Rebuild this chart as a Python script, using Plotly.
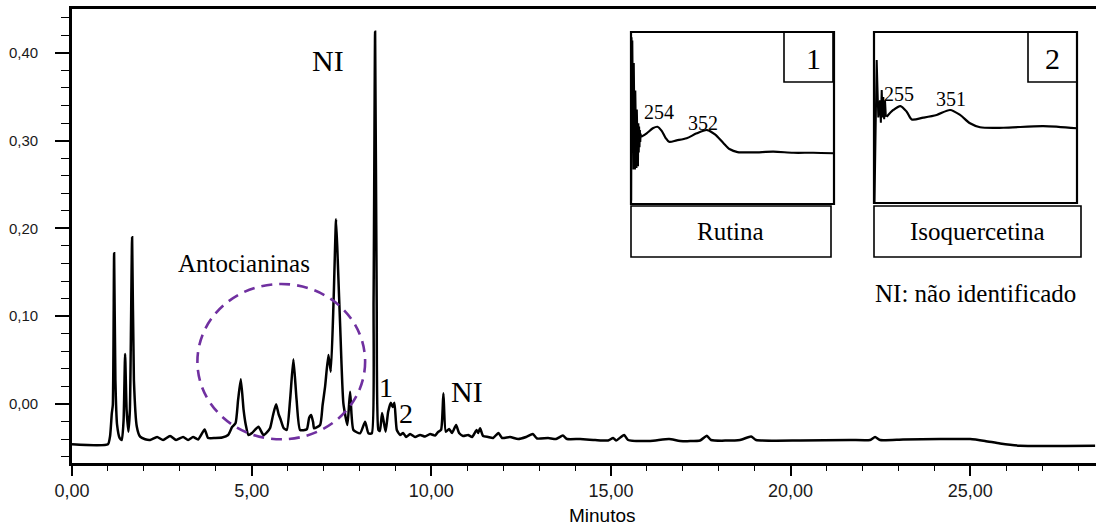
import plotly.graph_objects as go

# ---------------- data ----------------
# Chromatogram: retention time (min) and absorbance (AU)
tempo_min = [0.00, 1.00, 1.060, 1.108, 1.136, 1.172, 1.208, 1.255, 1.325, 1.386,
             1.436, 1.478, 1.520, 1.570, 1.611, 1.673, 1.723, 1.804, 1.895, 2.035,
             2.174, 2.368, 2.535, 2.730, 2.897, 3.092, 3.231, 3.370, 3.510, 3.691,
             3.788, 3.983, 4.178, 4.345, 4.456, 4.553, 4.623, 4.698, 4.776, 4.832,
             4.910, 5.012, 5.188, 5.327, 5.430, 5.514, 5.596, 5.680, 5.750, 5.811,
             5.889, 5.978, 6.070, 6.162, 6.251, 6.348, 6.535, 6.599, 6.655, 6.710,
             6.738, 6.905, 6.975, 7.044, 7.136, 7.203, 7.281, 7.350, 7.406, 7.461,
             7.553, 7.665, 7.740, 7.832, 8.018, 8.157, 8.249, 8.344, 8.394, 8.436,
             8.480, 8.527, 8.569, 8.631, 8.728, 8.798, 8.873, 8.923, 8.973, 9.040,
             9.132, 9.215, 9.299, 9.410, 9.549, 9.688, 9.827, 9.967, 10.105, 10.189,
             10.272, 10.337, 10.403, 10.495, 10.579, 10.690, 10.773, 10.885, 11.024, 11.135,
             11.261, 11.302, 11.358, 11.442, 11.581, 11.720, 11.868, 11.970, 12.193, 12.416,
             12.638, 12.825, 12.944, 13.251, 13.473, 13.660, 13.779, 14.141, 14.559, 14.921,
             15.060, 15.143, 15.366, 15.477, 16.089, 16.618, 16.924, 17.481, 17.668, 17.787,
             18.594, 18.900, 19.040, 20.264, 21.656, 22.213, 22.351, 22.491, 23.131, 24.161,
             24.996, 25.413, 25.830, 26.387, 28.475]
absorbancia = [-0.0459, -0.0459, -0.0364, -0.0106, -0.0011, 0.1716, 0.0273, -0.0239, -0.0387, -0.0410,
               -0.0182, 0.0569, -0.0068, -0.0315, -0.0068, 0.1899, 0.0273, -0.0259, -0.0372, -0.0402,
               -0.0410, -0.0376, -0.0410, -0.0364, -0.0410, -0.0376, -0.0410, -0.0376, -0.0404, -0.0290,
               -0.0387, -0.0387, -0.0382, -0.0353, -0.0262, -0.0216, 0.0046, 0.0281, -0.0068, -0.0228,
               -0.0353, -0.0330, -0.0259, -0.0353, -0.0319, -0.0273, -0.0125, -0.0003, -0.0114, -0.0182,
               -0.0273, -0.0296, 0.0046, 0.0509, 0.0046, -0.0296, -0.0288, -0.0159, -0.0125, -0.0205,
               -0.0277, -0.0239, -0.0011, 0.0197, 0.0558, 0.0368, 0.1185, 0.2104, 0.1526, 0.0919,
               0.0008, -0.0239, 0.0140, -0.0296, -0.0334, -0.0202, -0.0334, -0.0334, 0.1185, 0.4240,
               0.1185, -0.0296, -0.0308, -0.0103, -0.0315, -0.0091, 0.0015, -0.0034, 0.0015, -0.0296,
               -0.0353, -0.0330, -0.0376, -0.0342, -0.0376, -0.0353, -0.0370, -0.0342, -0.0359, -0.0319,
               -0.0296, 0.0122, -0.0315, -0.0285, -0.0330, -0.0239, -0.0330, -0.0364, -0.0353, -0.0376,
               -0.0296, -0.0330, -0.0277, -0.0364, -0.0376, -0.0387, -0.0330, -0.0387, -0.0376, -0.0399,
               -0.0376, -0.0342, -0.0393, -0.0387, -0.0399, -0.0359, -0.0399, -0.0399, -0.0410, -0.0416,
               -0.0387, -0.0416, -0.0353, -0.0410, -0.0421, -0.0399, -0.0421, -0.0416, -0.0361, -0.0410,
               -0.0410, -0.0370, -0.0410, -0.0416, -0.0410, -0.0410, -0.0376, -0.0410, -0.0404, -0.0399,
               -0.0399, -0.0421, -0.0450, -0.0475, -0.0475]

# UV spectrum of peak 1 (Rutina): wavelength (nm), relative absorbance
# first points: noisy start of the detector range; rest: smooth spectrum
lambda_rutina_ruido = [200.3, 201.0, 201.8, 202.6, 203.3, 204.0, 204.8, 205.5, 206.3, 207.0,
                       207.8, 208.5, 209.3, 210.0, 210.8, 211.5, 212.3, 213.0, 213.8, 214.5,
                       215.3, 216.0, 216.8, 217.5, 218.3, 219.0, 219.7]
abs_rutina_ruido = [0.02, 0.97, 0.40, 0.95, 0.30, 0.90, 0.20, 0.82, 0.28, 0.74,
                    0.20, 0.66, 0.25, 0.60, 0.21, 0.55, 0.26, 0.50, 0.22, 0.47,
                    0.30, 0.45, 0.33, 0.43, 0.36, 0.41, 0.39]
lambda_rutina = [219.7, 230.9, 243.0, 252.0, 260.5, 268.0, 275.0, 290.0, 309.7, 329.5,
                 350.0, 365.5, 381.9, 395.0, 410.0, 441.0, 480.4, 519.8, 559.2, 598.6]
abs_rutina = [0.39, 0.411, 0.44, 0.449, 0.425, 0.385, 0.362, 0.370, 0.382, 0.411,
              0.430, 0.405, 0.355, 0.318, 0.302, 0.300, 0.304, 0.298, 0.298, 0.295]

# UV spectrum of peak 2 (Isoquercetina)
lambda_isoq_ruido = [201.0, 205.3, 208.5, 211.8, 213.5, 215.2, 216.8, 218.3, 220.0, 221.7,
                     223.3, 225.0]
abs_isoq_ruido = [0.0, 0.836, 0.50, 0.60, 0.47, 0.66, 0.50, 0.62, 0.49, 0.60,
                  0.51, 0.505]
lambda_isoq = [225.0, 238.0, 252.0, 264.4, 274.3, 297.1, 323.5, 350.0, 369.5, 389.2,
               408.9, 454.8, 533.6, 599.4]
abs_isoq = [0.505, 0.544, 0.567, 0.534, 0.489, 0.499, 0.515, 0.544, 0.515, 0.466,
            0.443, 0.440, 0.450, 0.437]

x_tick_vals = [0, 5, 10, 15, 20, 25]
x_tick_text = ["0,00", "5,00", "10,00", "15,00", "20,00", "25,00"]
y_tick_vals = [0.0, 0.1, 0.2, 0.3, 0.4]
y_tick_text = ["0,00", "0,10", "0,20", "0,30", "0,40"]

# ---------------- layout helpers ----------------
W, H = 1096, 529
L, R, T, B = 72, 0, 9, 66
PW, PH = W - L - R, H - T - B


def fx(x):
    return (x - L) / PW


def fy(y):
    return (H - B - y) / PH


SERIF = "Liberation Serif"
SANS = "Liberation Sans"

fig = go.Figure()
fig.add_trace(go.Scatter(x=tempo_min, y=absorbancia, mode="lines",
                         line=dict(color="black", width=2.5, shape="spline", smoothing=0.5),
                         showlegend=False, hoverinfo="skip"))
fig.add_trace(go.Scatter(x=lambda_rutina_ruido, y=abs_rutina_ruido, mode="lines", xaxis="x2", yaxis="y2",
                         line=dict(color="black", width=2), showlegend=False, hoverinfo="skip"))
fig.add_trace(go.Scatter(x=lambda_rutina, y=abs_rutina, mode="lines", xaxis="x2", yaxis="y2",
                         line=dict(color="black", width=2.2, shape="spline", smoothing=0.8),
                         showlegend=False, hoverinfo="skip"))
fig.add_trace(go.Scatter(x=lambda_isoq_ruido, y=abs_isoq_ruido, mode="lines", xaxis="x3", yaxis="y3",
                         line=dict(color="black", width=2), showlegend=False, hoverinfo="skip"))
fig.add_trace(go.Scatter(x=lambda_isoq, y=abs_isoq, mode="lines", xaxis="x3", yaxis="y3",
                         line=dict(color="black", width=2.2, shape="spline", smoothing=0.8),
                         showlegend=False, hoverinfo="skip"))

shapes = []
# dashed circle around anthocyanins
shapes.append(dict(type="circle", xref="x", yref="y", x0=3.49, x1=8.158, y0=-0.0402, y1=0.1367,
                   line=dict(color="#7030A0", width=2.6, dash="11px,7px")))


def rect(x0, y0, x1, y1, w=2):
    shapes.append(dict(type="rect", xref="paper", yref="paper",
                       x0=fx(x0), x1=fx(x1), y0=fy(y1), y1=fy(y0),
                       line=dict(color="black", width=w), fillcolor="rgba(0,0,0,0)"))


# inset 1
rect(631, 32, 834, 204, 2.2)
rect(784, 32, 833, 82, 1.6)
rect(631, 206, 831, 257, 1.6)
# inset 2
rect(874, 32, 1077, 203, 2.2)
rect(1028, 32, 1077, 82, 1.6)
rect(874, 206, 1081, 257, 1.6)

ann = []


def text(t, x, y, size, fam=SERIF):
    ann.append(dict(text=t, xref="paper", yref="paper", x=fx(x), y=fy(y),
                    xanchor="center", yanchor="middle", showarrow=False,
                    font=dict(family=fam, size=size, color="black")))


text("NI", 327.5, 60.5, 30)
text("Antocianinas", 244, 263.5, 25)
text("1", 385.5, 387, 28)
text("2", 405.5, 413, 28)
text("NI", 466.7, 391, 30)
text("1", 813.3, 59, 30)
text("2", 1052.3, 59, 30)
text("254", 659, 112, 20)
text("352", 702.5, 122.5, 20)
text("255", 898.5, 94.2, 20)
text("351", 951, 99.2, 20)
text("Rutina", 730.7, 231.7, 25)
text("Isoquercetina", 977.3, 231.7, 25)
text("NI: não identificado", 975, 293.3, 25)
text("Minutos", 602, 515, 19, SANS)

fig.update_layout(
    width=W, height=H,
    margin=dict(l=L, r=R, t=T, b=B, pad=0),
    paper_bgcolor="white", plot_bgcolor="white",
    shapes=shapes, annotations=ann,
    xaxis=dict(range=[0, 28.5], showgrid=False, zeroline=False,
               showline=True, linecolor="black", linewidth=2.6, mirror=True,
               ticks="outside", ticklen=10, tickwidth=1.5, tickcolor="black",
               tickvals=x_tick_vals, ticktext=x_tick_text,
               tickfont=dict(family=SANS, size=18, color="#1a1a1a"),
               minor=dict(dtick=1, tick0=0, ticks="outside", ticklen=5, tickwidth=1.2,
                          tickcolor="black", showgrid=False)),
    yaxis=dict(range=[-0.0672, 0.4499], showgrid=False, zeroline=False,
               showline=True, linecolor="black", linewidth=2.6, mirror=False,
               ticks="outside", ticklen=14, tickwidth=1.5, tickcolor="black",
               tickvals=y_tick_vals, ticktext=y_tick_text, ticklabelstandoff=14,
               tickfont=dict(family=SANS, size=15, color="#1a1a1a"),
               minor=dict(dtick=0.02, tick0=0, ticks="outside", ticklen=8, tickwidth=1.2,
                          tickcolor="black", showgrid=False)),
    xaxis2=dict(domain=[fx(631), fx(834)], range=[200, 600], visible=False, anchor="y2"),
    yaxis2=dict(domain=[fy(204), fy(32)], range=[0, 1], visible=False, anchor="x2"),
    xaxis3=dict(domain=[fx(874), fx(1077)], range=[200, 600], visible=False, anchor="y3"),
    yaxis3=dict(domain=[fy(203), fy(32)], range=[0, 1], visible=False, anchor="x3"),
)

fig.write_html("out.html")
